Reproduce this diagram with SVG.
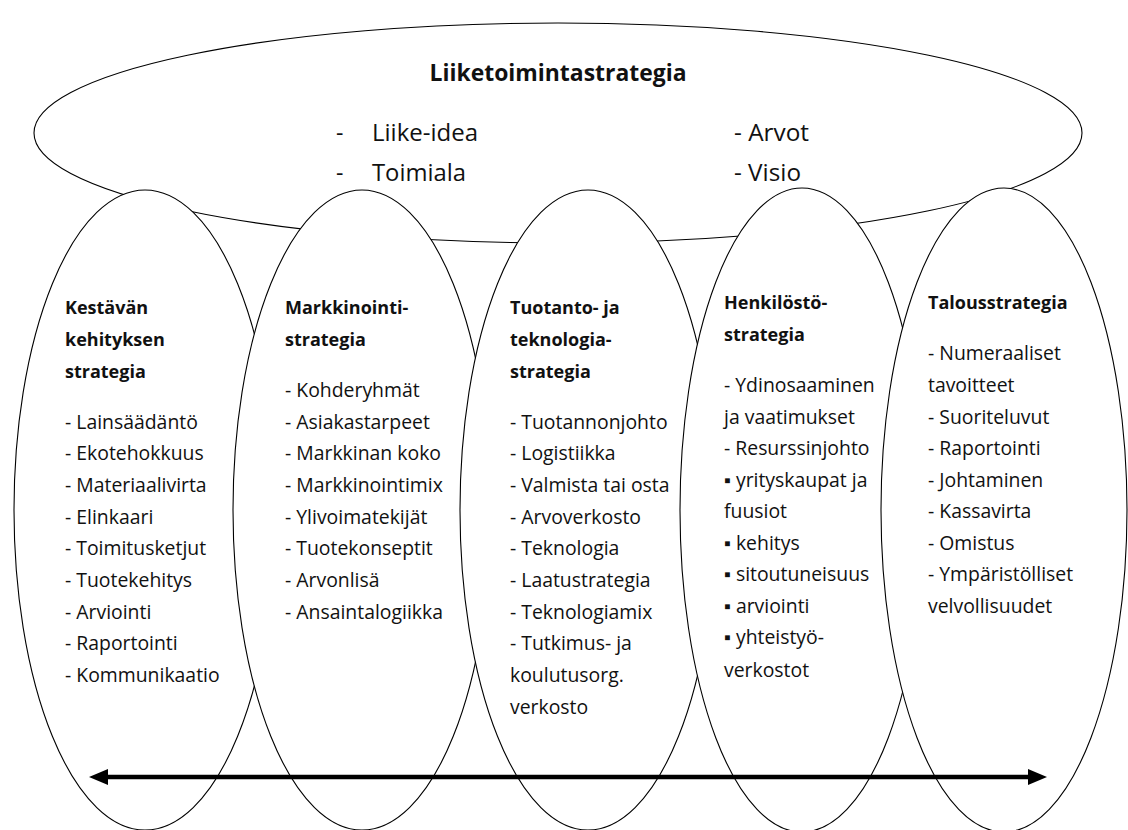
<svg xmlns="http://www.w3.org/2000/svg" width="1128" height="830" viewBox="0 0 1128 830">
<defs>
<style>
.ell{fill:#fff;stroke:#000;stroke-width:1.1}
.h{font-family:"Open Sans","Liberation Sans",sans-serif;font-weight:bold;font-size:18px;fill:#111}
.t{font-family:"Open Sans","Liberation Sans","DejaVu Sans",sans-serif;font-size:19.4px;fill:#111}
.top{font-family:"Open Sans","Liberation Sans",sans-serif;font-size:23px;fill:#111}
.title{font-family:"Open Sans","Liberation Sans",sans-serif;font-weight:bold;font-size:23px;fill:#111}
.arrow{stroke:#000;stroke-width:4.5;fill:none}
</style>
<marker id="ah" markerUnits="userSpaceOnUse" markerWidth="20" markerHeight="18" refX="0" refY="9" orient="auto-start-reverse">
<path d="M0,1 L19,9 L0,17 z" fill="#000"/>
</marker>
</defs>
<rect width="1128" height="830" fill="#fff"/>

<g id="liiketoimintastrategia">
<ellipse class="ell" cx="558" cy="133" rx="524" ry="110"/>
<text class="title" x="558" y="81" text-anchor="middle" textLength="257" lengthAdjust="spacingAndGlyphs">Liiketoimintastrategia</text>
<text class="top" x="336" y="141">-</text>
<text class="top" x="372" y="141" textLength="106" lengthAdjust="spacingAndGlyphs">Liike-idea</text>
<text class="top" x="336" y="181">-</text>
<text class="top" x="372" y="181" textLength="94" lengthAdjust="spacingAndGlyphs">Toimiala</text>
<text class="top" x="734" y="141" textLength="75" lengthAdjust="spacingAndGlyphs">- Arvot</text>
<text class="top" x="734" y="181" textLength="67" lengthAdjust="spacingAndGlyphs">- Visio</text>
</g>

<g id="kestavan-kehityksen-strategia">
<ellipse class="ell" cx="145" cy="510" rx="131" ry="320"/>
<text class="h" x="65" y="314">Kestävän</text>
<text class="h" x="65" y="346">kehityksen</text>
<text class="h" x="65" y="378">strategia</text>
<text class="t" x="65" y="429">- Lainsäädäntö</text>
<text class="t" x="65" y="460">- Ekotehokkuus</text>
<text class="t" x="65" y="492">- Materiaalivirta</text>
<text class="t" x="65" y="524">- Elinkaari</text>
<text class="t" x="65" y="555">- Toimitusketjut</text>
<text class="t" x="65" y="587">- Tuotekehitys</text>
<text class="t" x="65" y="619">- Arviointi</text>
<text class="t" x="65" y="650">- Raportointi</text>
<text class="t" x="65" y="682">- Kommunikaatio</text>
</g>

<g id="markkinointistrategia">
<ellipse class="ell" cx="362" cy="510" rx="129" ry="320"/>
<text class="h" x="285" y="314">Markkinointi-</text>
<text class="h" x="285" y="346">strategia</text>
<text class="t" x="285" y="397">- Kohderyhmät</text>
<text class="t" x="285" y="429">- Asiakastarpeet</text>
<text class="t" x="285" y="460">- Markkinan koko</text>
<text class="t" x="285" y="492">- Markkinointimix</text>
<text class="t" x="285" y="524">- Ylivoimatekijät</text>
<text class="t" x="285" y="555">- Tuotekonseptit</text>
<text class="t" x="285" y="587">- Arvonlisä</text>
<text class="t" x="285" y="619">- Ansaintalogiikka</text>
</g>

<g id="tuotanto-ja-teknologiastrategia">
<ellipse class="ell" cx="588" cy="510" rx="128" ry="320"/>
<text class="h" x="510" y="314">Tuotanto- ja</text>
<text class="h" x="510" y="346">teknologia-</text>
<text class="h" x="510" y="378">strategia</text>
<text class="t" x="510" y="429">- Tuotannonjohto</text>
<text class="t" x="510" y="460">- Logistiikka</text>
<text class="t" x="510" y="492">- Valmista tai osta</text>
<text class="t" x="510" y="524">- Arvoverkosto</text>
<text class="t" x="510" y="555">- Teknologia</text>
<text class="t" x="510" y="587">- Laatustrategia</text>
<text class="t" x="510" y="619">- Teknologiamix</text>
<text class="t" x="510" y="650">- Tutkimus- ja</text>
<text class="t" x="510" y="682">koulutusorg.</text>
<text class="t" x="510" y="714">verkosto</text>
</g>

<g id="henkilostostrategia">
<ellipse class="ell" cx="802" cy="510" rx="122" ry="322"/>
<text class="h" x="724" y="309">Henkilöstö-</text>
<text class="h" x="724" y="341">strategia</text>
<text class="t" x="724" y="392">- Ydinosaaminen</text>
<text class="t" x="724" y="424">ja vaatimukset</text>
<text class="t" x="724" y="455">- Resurssinjohto</text>
<text class="t" x="724" y="487">▪ yrityskaupat ja</text>
<text class="t" x="724" y="518">fuusiot</text>
<text class="t" x="724" y="550">▪ kehitys</text>
<text class="t" x="724" y="581">▪ sitoutuneisuus</text>
<text class="t" x="724" y="613">▪ arviointi</text>
<text class="t" x="724" y="644">▪ yhteistyö-</text>
<text class="t" x="724" y="677">verkostot</text>
</g>

<g id="talousstrategia">
<ellipse class="ell" cx="1004" cy="510" rx="123" ry="322"/>
<text class="h" x="928" y="309">Talousstrategia</text>
<text class="t" x="928" y="360">- Numeraaliset</text>
<text class="t" x="928" y="392">tavoitteet</text>
<text class="t" x="928" y="424">- Suoriteluvut</text>
<text class="t" x="928" y="455">- Raportointi</text>
<text class="t" x="928" y="487">- Johtaminen</text>
<text class="t" x="928" y="518">- Kassavirta</text>
<text class="t" x="928" y="550">- Omistus</text>
<text class="t" x="928" y="581">- Ympäristölliset</text>
<text class="t" x="928" y="613">velvollisuudet</text>
</g>

<g id="connectors">
<line class="arrow" x1="108" y1="777" x2="1028" y2="777" marker-start="url(#ah)" marker-end="url(#ah)"/>
</g>
</svg>
